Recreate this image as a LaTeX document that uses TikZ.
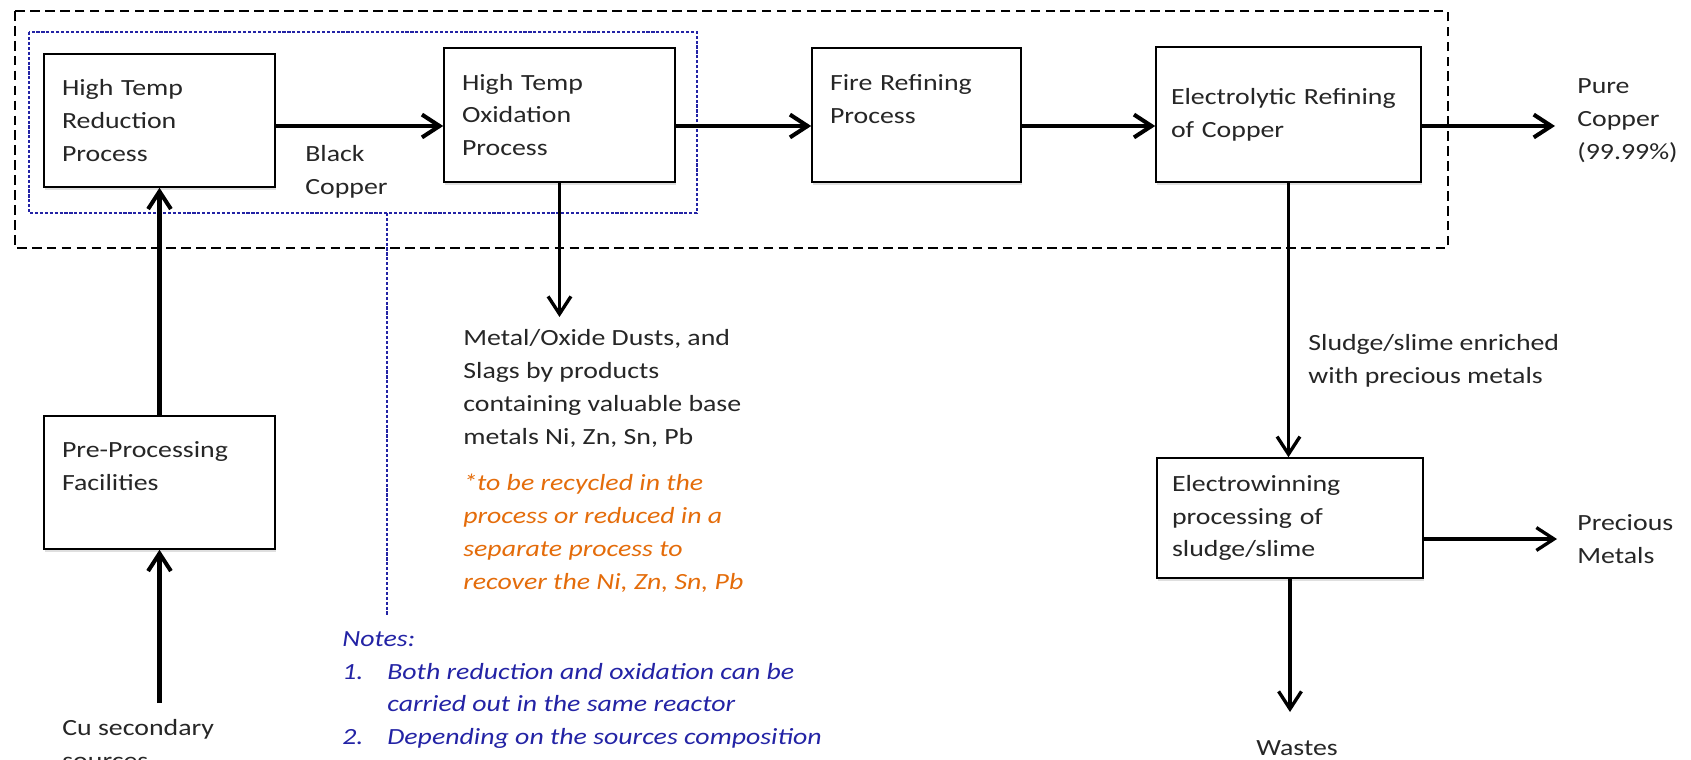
\documentclass[tikz,border=0pt]{standalone}
\usepackage{fontspec}
\setmainfont{Carlito}[FakeStretch=1.2]
\usepackage{xcolor}
\usepackage{tikz}
\usetikzlibrary{arrows.meta,shadows}
\definecolor{notesblue}{RGB}{35,35,165}
\definecolor{slagorange}{RGB}{228,108,10}
\definecolor{inkgray}{RGB}{38,38,38}
\newcommand{\diagfont}{\fontsize{13.2}{18.7}\selectfont}

\begin{document}
\begin{tikzpicture}[
    x=0.02cm, y=-0.02cm,
    every node/.style={font=\diagfont, text=inkgray},
    procbox/.style={
        rectangle, draw=black, line width=0.9pt, fill=white,
        align=left, inner xsep=0.36cm, inner ysep=0pt,
        drop shadow={shadow xshift=0.5pt, shadow yshift=-1.5pt, opacity=0.25}
    },
    lbl/.style={align=left, inner sep=0pt},
    note/.style={lbl, font=\diagfont\itshape},
    flow/.style={-{Straight Barb[length=10pt,width=13pt]}, line width=2.3pt, black},
    vflow/.style={flow, line width=1.9pt},
    frame/.style={black, line width=0.7pt, dash pattern=on 5.5pt off 3pt},
    group/.style={notesblue, line width=0.6pt, dash pattern=on 1.8pt off 1pt}
]
    \useasboundingbox (0,0) rectangle (1691,760);

    \draw[frame] (15,11) rectangle (1448,248);
    \draw[group] (29,32) rectangle (697,213);
    \coordinate (mainline) at (0,126);
    \coordinate (grpfoot) at (387,213);

    \node[procbox, text width=3.9cm, minimum height=2.66cm] (reduce) at (159.5,120.5) {High Temp\\Reduction\\Process};
    \node[procbox, text width=3.9cm, minimum height=2.68cm] (oxid) at (559.5,115) {High Temp\\Oxidation\\Process};
    \node[procbox, text width=3.46cm, minimum height=2.68cm] (fire) at (916.5,115) {Fire Refining\\Process\\~};
    \node[procbox, text width=4.7cm, inner xsep=0.3cm, minimum height=2.7cm] (elec) at (1288.5,114.5) {Electrolytic Refining\\of Copper};
    \node[procbox, text width=4.72cm, inner xsep=0.3cm, minimum height=2.4cm] (ewin) at (1290,518) {Electrowinning\\processing of\\sludge/slime};
    \node[procbox, text width=3.9cm, minimum height=2.66cm] (prep) at (159.5,482.5) {Pre-Processing\\Facilities\\~};

    \node[lbl, anchor=west] (blackcu) at (305,171.5) {Black\\Copper};
    \node[lbl, anchor=west] (pure) at (1577,120.5) {Pure\\Copper\\(99.99\%)};
    \node[lbl, anchor=west] (precious) at (1577,539) {Precious\\Metals};
    \node[lbl, anchor=north] (wastes) at (1297,740) {Wastes};
    \node[lbl, anchor=north west] (sludge) at (1308,334) {Sludge/slime enriched\\with precious metals};
    \node[lbl, anchor=north west] (source) at (62,719) {Cu secondary\\sources};
    \node[lbl, anchor=north west] (slag) at (463,329) {Metal/Oxide Dusts, and\\Slags by products\\containing valuable base\\metals Ni, Zn, Sn, Pb};
    \node[note, anchor=north west, text=slagorange] (recycle) at (463,474) {*to be recycled in the\\process or reduced in a\\separate process to\\recover the Ni, Zn, Sn, Pb};
    \node[note, anchor=north west, text=notesblue] (notes) at (342,631) {Notes:\\
        \makebox[0.9cm][l]{1.}Both reduction and oxidation can be\\
        \makebox[0.9cm][l]{}carried out in the same reactor\\
        \makebox[0.9cm][l]{2.}Depending on the sources composition};

    \draw[flow] (reduce.east |- mainline) -- (oxid.west |- mainline);
    \draw[flow] (oxid.east |- mainline) -- (fire.west |- mainline);
    \draw[flow] (fire.east |- mainline) -- (elec.west |- mainline);
    \draw[flow, shorten >=0.44cm] (elec.east |- mainline) -- (pure.west |- mainline);
    \draw[flow] (prep.north) -- (reduce.south);
    \draw[flow, shorten <=0.32cm] (prep.south |- source.north) -- (prep.south);
    \draw[vflow, shorten >=0.24cm] (oxid.south) -- (oxid.south |- slag.north);
    \draw[vflow] (elec.south) -- (elec.south |- ewin.north);
    \draw[vflow, shorten >=0.4cm] (ewin.east |- precious.west) -- (precious.west);
    \draw[vflow, shorten >=0.56cm] (ewin.south) -- (ewin.south |- wastes.north);
    \draw[group, shorten >=0.32cm] (grpfoot) -- (grpfoot |- notes.north);
\end{tikzpicture}
\end{document}
